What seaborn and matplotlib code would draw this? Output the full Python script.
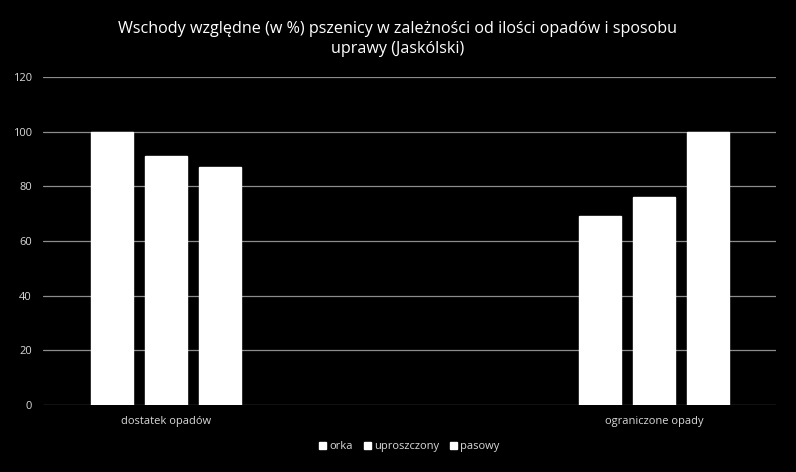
import pandas as pd
import matplotlib
matplotlib.use("Agg")
import matplotlib.pyplot as plt
import seaborn as sns

categories = ["dostatek opadów", "ograniczone opady"]
series = ["orka", "uproszczony", "pasowy"]
orka = [100, 69]
uproszczony = [91, 76]
pasowy = [87, 100]

df = pd.DataFrame({
    "kategoria": categories * 3,
    "sposob": [s for s in series for _ in categories],
    "wartosc": orka + uproszczony + pasowy,
})

sns.set_theme(style="dark")
plt.rcParams["font.family"] = ["Open Sans", "DejaVu Sans"]

fig = plt.figure(figsize=(7.96, 4.72), dpi=100, facecolor="black")
ax = fig.add_axes([0.054, 0.142, 0.921, 0.695])
ax.set_facecolor("black")

sns.barplot(data=df, x="kategoria", y="wartosc", hue="sposob",
            order=categories, hue_order=series,
            palette=["white"] * 3, width=0.333, gap=0.22,
            saturation=1, errorbar=None, ax=ax, zorder=3)

ax.set_xlim(-0.252, 1.25)
ax.set_ylim(0, 120)
ax.set_yticks(range(0, 121, 20))
ax.yaxis.grid(True, color="#8c8c8c", lw=0.9)
ax.xaxis.grid(False)
ax.set_axisbelow(True)
for s in ["top", "right", "left", "bottom"]:
    ax.spines[s].set_visible(False)
ax.tick_params(colors="#d9d9d9", labelsize=8, length=0, pad=8)
ax.set_xlabel("")
ax.set_ylabel("")

fig.suptitle("Wschody względne (w %) pszenicy w zależności od ilości opadów i sposobu\nuprawy (Jaskólski)",
             color="white", fontsize=11.6, y=0.955, linespacing=1.35)

ax.legend(ncol=3, loc="upper center", bbox_to_anchor=(0.5, -0.08), frameon=False,
          labelcolor="#d9d9d9", fontsize=8, handlelength=0.6, handleheight=0.6,
          handletextpad=0.3, columnspacing=1.0)

fig.savefig("out.png", dpi=100, facecolor="black")
